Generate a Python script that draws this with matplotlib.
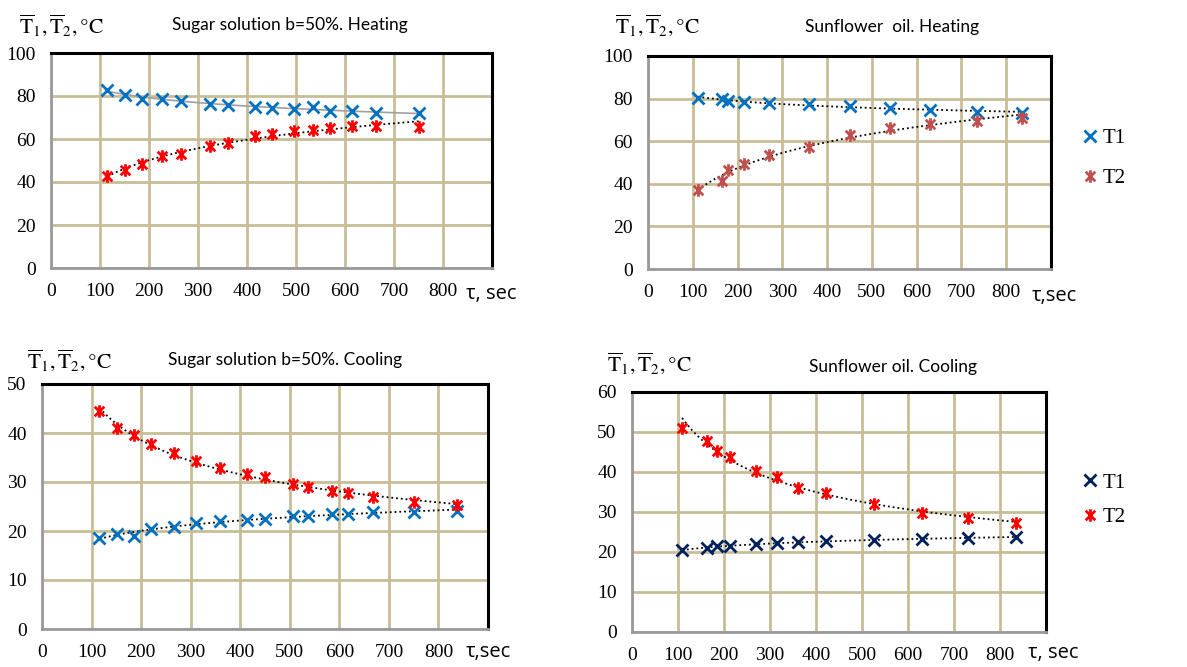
import numpy as np
import matplotlib
matplotlib.use('Agg')
import matplotlib.pyplot as plt
from matplotlib.path import Path

SERIF = ['Liberation Serif', 'DejaVu Serif']
SANS = ['Lato', 'DejaVu Sans']
plt.rcParams['font.family'] = SERIF
plt.rcParams['mathtext.fontset'] = 'stix'

# ---------------- data ----------------
# sugar solution, heating
sh_t = [115, 151, 186, 226, 266, 324, 361, 417, 451, 495, 535, 569, 614, 663, 752]
sh_T1 = [83.0, 80.6, 78.6, 78.6, 77.5, 76.4, 76.0, 74.9, 74.6, 74.0, 74.7, 73.2, 72.9, 72.1, 72.1]
sh_T2 = [42.9, 45.7, 48.5, 51.9, 53.2, 56.9, 58.1, 61.2, 62.5, 63.6, 64.0, 65.1, 65.9, 66.2, 65.6]

# sunflower oil, heating
oh_t = [111, 165, 179, 215, 270, 359, 450, 540, 629, 735, 836]
oh_T1 = [80.5, 79.7, 78.9, 78.6, 78.1, 77.3, 76.3, 75.5, 74.7, 73.9, 73.4]
oh_T2 = [37.2, 41.4, 46.3, 49.2, 53.3, 57.5, 62.7, 66.1, 68.1, 69.7, 70.8]

# sugar solution, cooling
sc_t = [116, 151, 186, 220, 266, 311, 360, 413, 450, 506, 536, 586, 617, 668, 751, 838]
sc_T1 = [18.5, 19.4, 19.0, 20.4, 20.9, 21.6, 22.1, 22.3, 22.5, 23.0, 23.1, 23.4, 23.4, 23.8, 23.8, 24.1]
sc_T2 = [44.4, 41.0, 39.6, 37.8, 35.9, 34.3, 32.8, 31.7, 31.0, 29.6, 29.0, 28.1, 27.7, 26.9, 26.0, 25.3]

# sunflower oil, cooling
oc_t = [109, 163, 185, 214, 269, 316, 360, 421, 526, 630, 731, 835]
oc_T1 = [20.5, 20.9, 21.4, 21.5, 22.0, 22.2, 22.6, 22.8, 23.0, 23.3, 23.4, 23.7]
oc_T2 = [51.0, 47.7, 45.3, 43.8, 40.2, 38.8, 36.1, 34.7, 32.0, 29.8, 28.4, 27.2]

W, H = 1187, 667
GRID = '#c8bd96'

# excel-like star marker: x with a vertical bar
star = Path([(-1, -1), (1, 1), (-1, 1), (1, -1), (0, -1.3), (0, 1.3)],
            [Path.MOVETO, Path.LINETO, Path.MOVETO, Path.LINETO, Path.MOVETO, Path.LINETO])


def px_axes(fig, l, r, t, b):
    return fig.add_axes([l / W, 1 - b / H, (r - l) / W, (b - t) / H])


def trend(ax, t, y, style=':', color='black', lw=1.3, kind='log'):
    t = np.array(t, dtype=float)
    y = np.array(y, dtype=float)
    tt = np.linspace(t.min(), t.max(), 200)
    if kind == 'power':
        c = np.polyfit(np.log(t), np.log(y), 1)
        yy = np.exp(np.polyval(c, np.log(tt)))
    else:
        c = np.polyfit(np.log(t), y, 1)
        yy = np.polyval(c, np.log(tt))
    ax.plot(tt, yy, linestyle=style, color=color, lw=lw, zorder=3)


def setup(ax, ymax, ystep, title, xlab, title_xy, ylab_xy, xlab_xy):
    ax.set_xlim(0, 900)
    ax.set_ylim(0, ymax)
    ax.set_xticks(np.arange(0, 900, 100))
    ax.set_yticks(np.arange(0, ymax + 1, ystep))
    ax.grid(True, color=GRID, lw=2)
    ax.set_axisbelow(True)
    ax.tick_params(length=0, labelsize=14)
    ax.tick_params(axis='y', pad=11)
    ax.tick_params(axis='x', pad=11)
    for s in ['top', 'right']:
        ax.spines[s].set_color('black')
        ax.spines[s].set_linewidth(2.2)
    for s in ['left', 'bottom']:
        ax.spines[s].set_color('#9a9a9a')
        ax.spines[s].set_linewidth(2)
    fig.text(title_xy[0] / W, 1 - title_xy[1] / H, title, ha='center', va='center',
             fontsize=12.5, family=SANS)
    fig.text(ylab_xy[0] / W, 1 - ylab_xy[1] / H,
             r'$\overline{\mathrm{T}}_1, \overline{\mathrm{T}}_2, °\mathrm{C}$',
             ha='left', va='center', fontsize=15.5)
    fig.text(xlab_xy[0] / W, 1 - xlab_xy[1] / H, xlab, ha='left', va='center',
             fontsize=14.5, family=['Open Sans', 'DejaVu Sans'])


fig = plt.figure(figsize=(W / 100, H / 100), dpi=100)

# top left
ax1 = px_axes(fig, 51, 492, 53, 268)
trend(ax1, sh_t, sh_T1, style='-', color='#a0a0a0', lw=1.2)
trend(ax1, sh_t, sh_T2)
ax1.plot(sh_t, sh_T1, 'x', color='#0070c0', ms=9, mew=2, ls='none', zorder=4)
ax1.plot(sh_t, sh_T2, marker=star, color='#ff0000', ms=9, mew=2, ls='none', zorder=4)
setup(ax1, 100, 20, 'Sugar solution b=50%. Heating', 'τ, sec', (290, 25), (19, 25), (466, 294))

# top right
ax2 = px_axes(fig, 648, 1051, 56, 269)
trend(ax2, oh_t, oh_T1)
trend(ax2, oh_t, oh_T2)
ax2.plot(oh_t, oh_T1, 'x', color='#0070c0', ms=9, mew=2, ls='none', zorder=4, label='T1')
ax2.plot(oh_t, oh_T2, marker=star, color='#c0504d', ms=9, mew=2, ls='none', zorder=4, label='T2')
setup(ax2, 100, 20, 'Sunflower  oil. Heating', 'τ,sec', (892, 27), (615, 25), (1032, 296))
ax2.legend(loc='center left', bbox_to_anchor=(1.02, 0.52), frameon=False, handletextpad=0.0,
           handlelength=1.2, labelspacing=1.0, prop={'family': SERIF, 'size': 15})

# bottom left
ax3 = px_axes(fig, 42, 488, 384, 629)
trend(ax3, sc_t, sc_T2, kind='power')
trend(ax3, sc_t, sc_T1)
ax3.plot(sc_t, sc_T1, 'x', color='#0070c0', ms=9, mew=2, ls='none', zorder=4)
ax3.plot(sc_t, sc_T2, marker=star, color='#ff0000', ms=9, mew=2, ls='none', zorder=4)
setup(ax3, 50, 10, 'Sugar solution b=50%. Cooling', 'τ,sec', (285, 360), (27, 360), (466, 652))

# bottom right
ax4 = px_axes(fig, 632, 1046, 392, 632)
trend(ax4, oc_t, oc_T2, kind='power')
trend(ax4, oc_t, oc_T1)
ax4.plot(oc_t, oc_T1, 'x', color='#002060', ms=9, mew=2, ls='none', zorder=4, label='T1')
ax4.plot(oc_t, oc_T2, marker=star, color='#ff0000', ms=9, mew=2, ls='none', zorder=4, label='T2')
setup(ax4, 60, 10, 'Sunflower oil. Cooling', 'τ, sec', (893, 367), (607, 363), (1028, 653))
ax4.legend(loc='center left', bbox_to_anchor=(1.03, 0.55), frameon=False, handletextpad=0.0,
           handlelength=1.2, labelspacing=0.7, prop={'family': SERIF, 'size': 15})

fig.savefig('out.png', dpi=100)
